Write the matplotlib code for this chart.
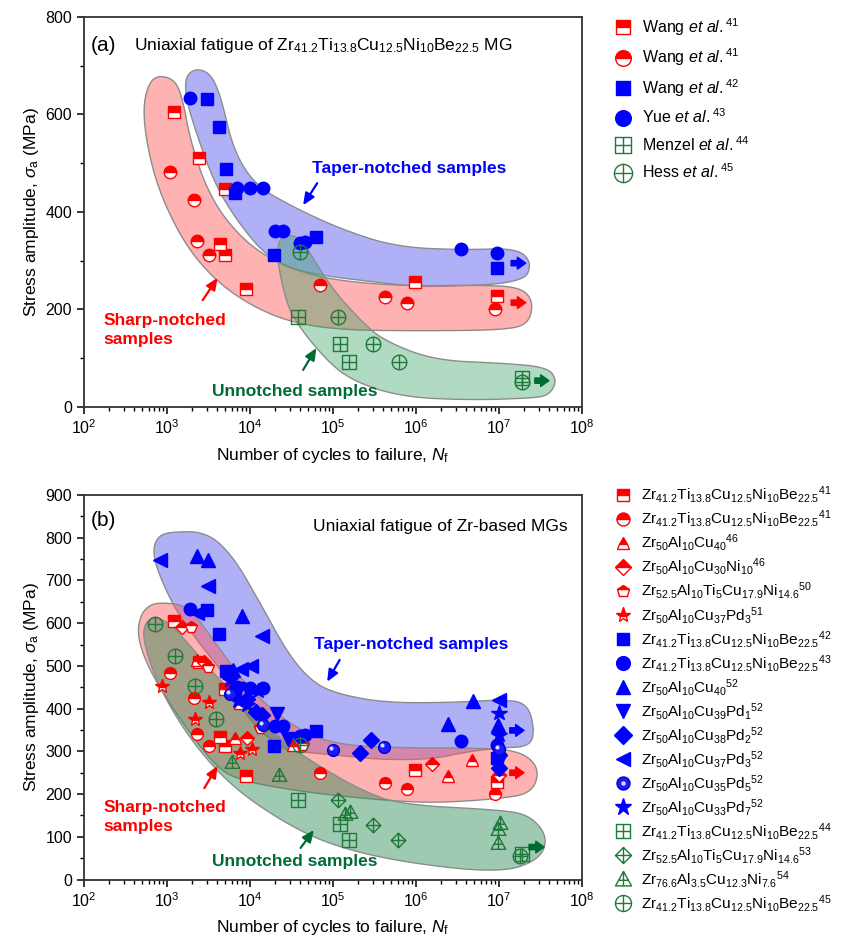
import numpy as np
import matplotlib
matplotlib.use('Agg')
import matplotlib.pyplot as plt
import matplotlib.colors as mcolors
import matplotlib.transforms as mtransforms
from matplotlib.path import Path
from matplotlib.patches import Polygon
from matplotlib.lines import Line2D
from matplotlib.ticker import MultipleLocator, FixedLocator, NullFormatter

plt.rcParams['font.family'] = ['Liberation Sans', 'DejaVu Sans']
plt.rcParams['mathtext.fontset'] = 'custom'
plt.rcParams['mathtext.rm'] = 'Liberation Sans'
plt.rcParams['mathtext.it'] = 'Liberation Sans:italic'
plt.rcParams['mathtext.bf'] = 'Liberation Sans:bold'

# ── Data shared by both panels (cycles, MPa) ──────────────────
W41_SQ_N = [1200, 2400, 5000, 4400, 5000, 9000, 9.7e5, 9.5e6]
W41_SQ_S = [605, 510, 447, 334, 312, 242, 256, 228]
W41_CI_N = [1100, 2100, 2300, 3200, 7.0e4, 4.2e5, 7.7e5, 9.0e6]
W41_CI_S = [483, 425, 341, 312, 250, 226, 213, 200]
W42_N = [3000, 4200, 5100, 6600, 19500, 62000, 9.5e6]
W42_S = [632, 575, 488, 439, 312, 348, 285]
Y43_N = [1900, 7000, 10000, 14500, 20000, 25000, 40000, 46000, 3.5e6, 9.5e6]
Y43_S = [633, 450, 449, 449, 360, 360, 336, 338, 324, 315]
M44_N = [38000, 1.2e5, 1.55e5, 1.9e7]
M44_S = [185, 130, 93, 60]

# panel (a) only
H45A_N = [40000, 1.15e5, 3.0e5, 6.3e5, 1.9e7]
H45A_S = [318, 185, 130, 93, 52]

# panel (b) only
H45B_N = [720, 1250, 2200, 3850, 40000, 1.8e7]
H45B_S = [599, 524, 452, 375, 316, 56]
D53_N = [1.15e5, 3.0e5, 6.0e5]
D53_S = [186, 128, 93]
T54_N = [6000, 22500, 1.4e5, 1.6e5, 9.7e6, 1.02e7, 9.7e6]
T54_S = [274, 245, 153, 157, 118, 132, 86]
R46T_N = [2280, 6600, 7500, 33000, 2.4e6, 4.7e6, 1.0e7]
R46T_S = [513, 332, 413, 316, 243, 280, 270]
R46D_N = [1520, 2790, 9100, 1.58e6, 1.0e7]
R46D_S = [592, 510, 331, 271, 245]
R50P_N = [1930, 3120, 13200, 43000, 1.0e7]
R50P_S = [592, 498, 355, 316, 260]
R51S_N = [860, 2170, 3240, 7550, 10500, 1.0e7]
R51S_S = [452, 376, 415, 297, 305, 292]
B52T_N = [2320, 3150, 7950, 6300, 2.4e6, 4.8e6, 9.8e6]
B52T_S = [758, 747, 616, 491, 364, 417, 362]
B52V_N = [7200, 21000, 29000, 1.0e7]
B52V_S = [446, 388, 329, 275]
B52D_N = [9100, 11700, 13800, 2.1e5, 2.9e5, 1.0e7, 1.0e7]
B52D_S = [422, 393, 385, 297, 327, 292, 261]
B52L_N = [825, 2270, 3150, 13900, 7900, 10300, 1.0e7]
B52L_S = [749, 625, 686, 571, 493, 500, 421]
B52O_N = [5750, 14200, 1.0e5, 4.1e5, 1.0e7]
B52O_S = [434, 362, 303, 311, 305]
B52S_N = [5750, 7200, 9100, 12400, 1.0e7, 1.0e7]
B52S_S = [467, 417, 409, 442, 389, 339]

X_DECADES = [1e2, 1e3, 1e4, 1e5, 1e6, 1e7, 1e8]

# ── Band outlines, (log10 N, MPa) ─────────────────────────────
PINK_A_LX = [2.89, 3.10, 3.19, 3.28, 3.46, 3.70, 4.06, 4.48, 4.96, 5.81, 6.77, 7.25, 7.41,
             7.37, 7.13, 6.05, 5.08, 4.48, 4.00, 3.58, 3.22, 2.92, 2.77, 2.71, 2.77]
PINK_A_S = [681, 671, 630, 548, 455, 384, 322, 285, 261, 248, 250, 246, 219,
            174, 158, 156, 158, 174, 209, 260, 332, 435, 527, 609, 661]
BLUE_A_LX = [3.37, 3.54, 3.66, 3.80, 4.06, 4.52, 5.12, 5.77, 6.57, 7.22, 7.40, 7.29,
             6.17, 5.81, 4.60, 4.21, 3.88, 3.58, 3.34, 3.22, 3.23]
BLUE_A_S = [695, 681, 630, 527, 455, 410, 363, 328, 322, 326, 295, 254,
            246, 250, 275, 308, 373, 455, 568, 640, 681]
GREEN_A_LX = [4.40, 4.60, 4.72, 5.00, 5.33, 5.60, 6.21, 7.01, 7.58, 7.70, 7.61, 7.41,
              6.61, 5.81, 5.21, 4.88, 4.51, 4.40, 4.34, 4.33]
GREEN_A_S = [353, 349, 316, 240, 178, 137, 96, 90, 82, 55, 25, 18,
             14, 21, 55, 103, 183, 240, 295, 332]

BLUE_B_LX = [3.04, 3.48, 3.80, 4.12, 4.45, 4.72, 5.00, 5.60, 6.41, 7.01, 7.34, 7.43, 7.37,
             7.01, 6.61, 6.21, 5.60, 5.00, 4.60, 4.40, 4.00, 3.68, 3.40, 3.10, 2.88, 2.83, 2.89]
BLUE_B_S = [814, 814, 756, 648, 531, 468, 437, 414, 414, 421, 414, 350, 311,
            308, 299, 282, 280, 292, 299, 304, 367, 484, 550, 631, 725, 772, 803]
PINK_B_LX = [2.95, 3.19, 3.34, 3.64, 4.00, 4.48, 5.00, 5.81, 6.61, 7.22, 7.49, 7.41, 7.01,
             6.21, 5.60, 4.96, 4.36, 3.88, 3.60, 3.19, 2.80, 2.64, 2.68, 2.80]
PINK_B_S = [648, 643, 620, 538, 444, 362, 316, 308, 308, 304, 264, 203, 189,
            179, 186, 198, 214, 233, 261, 365, 484, 568, 620, 644]
GREEN_B_LX = [2.80, 2.98, 3.19, 3.55, 3.88, 4.40, 4.81, 5.33, 5.81, 7.01, 7.37, 7.59, 7.49,
              7.01, 5.81, 4.96, 4.36, 3.76, 3.28, 2.92, 2.74, 2.71]
GREEN_B_S = [613, 608, 568, 484, 421, 322, 268, 210, 175, 163, 151, 100, 46,
             15, 41, 81, 139, 221, 327, 444, 538, 589]

# run-out arrows: (start N, end N, stress)
RUN_A = {'blue': (1.4e7, 2.1e7, 295), 'red': (1.4e7, 2.1e7, 214), 'green': (2.7e7, 4.0e7, 54)}
RUN_B = {'blue': (1.35e7, 2.0e7, 349), 'red': (1.35e7, 2.0e7, 250), 'green': (2.3e7, 3.5e7, 76)}

RED = '#ff0000'
BLUE = '#0000ff'
GRN = '#1f7a3a'
DKGRN = '#006b35'


def seg(a, b):
    return Path([a, b], [Path.MOVETO, Path.LINETO])


def closed(p):
    return Path(p + [p[0]], [Path.MOVETO] + [Path.LINETO] * (len(p) - 1) + [Path.CLOSEPOLY])


BOXPLUS = Path.make_compound_path(closed([(-1, -1), (1, -1), (1, 1), (-1, 1)]),
                                  seg((-1, 0), (1, 0)), seg((0, -1), (0, 1)))
OPLUS = Path.make_compound_path(Path.unit_circle(), seg((-1, 0), (1, 0)), seg((0, -1), (0, 1)))
DIAPLUS = Path.make_compound_path(closed([(0, -1), (1, 0), (0, 1), (-1, 0)]),
                                  seg((-1, 0), (1, 0)), seg((0, -1), (0, 1)))
TRIPLUS = Path.make_compound_path(closed([(-1, -0.8), (1, -0.8), (0, 1)]),
                                  seg((0, -0.8), (0, 1)), seg((-0.6, -0.1), (0.6, -0.1)))


def chaikin(lx, s, n=5):
    p = np.column_stack([lx, s]).astype(float)
    for _ in range(n):
        q = np.roll(p, -1, axis=0)
        new = np.empty((2 * len(p), 2))
        new[0::2] = 0.75 * p + 0.25 * q
        new[1::2] = 0.25 * p + 0.75 * q
        p = new
    return p


def band(ax, lx, s, color, alpha):
    p = chaikin(lx, s)
    verts = np.column_stack([10 ** p[:, 0], p[:, 1]])
    ax.add_patch(Polygon(verts, closed=True, fc=mcolors.to_rgba(color, alpha),
                         ec='#8c8c8c', lw=1.0, zorder=1))


def pts(ax, x, y, marker, color, ms=8, fill='full', z=5):
    kw = dict(ls='none', marker=marker, ms=ms, mec=color, mew=1.0, zorder=z)
    if fill == 'top':
        kw.update(fillstyle='top', mfc=color, markerfacecoloralt='white')
    elif fill == 'none':
        kw.update(mfc='none')
    else:
        kw.update(mfc=color)
    return ax.plot(x, y, **kw)[0]


def sphere(ax, x, y, ms=8):
    h1 = ax.plot(x, y, ls='none', marker='o', ms=ms, color='#1a1aff', mec='#0000cc', zorder=5)[0]
    tr = mtransforms.offset_copy(ax.transData, fig=fig, x=-1.3, y=1.3, units='points')
    ax.plot(x, y, ls='none', marker='o', ms=ms * 0.35, color='#d8d8ff', mec='none',
            zorder=6, transform=tr)
    h2 = Line2D([], [], ls='none', marker='o', ms=ms * 0.35, color='#d8d8ff', mec='none')
    return (h1, h2)


def runout(ax, runs):
    for col, (x0, x1, y) in runs.items():
        c = {'blue': BLUE, 'red': RED, 'green': DKGRN}[col]
        ax.annotate('', xy=(x1, y), xytext=(x0, y),
                    arrowprops=dict(arrowstyle='simple,head_length=0.6,head_width=0.85,tail_width=0.38',
                                    fc=c, ec=c, shrinkA=0, shrinkB=0), zorder=6)


def pointer(ax, tail, tip, color):
    ax.annotate('', xy=tip, xytext=tail,
                arrowprops=dict(arrowstyle='-|>,head_length=0.5,head_width=0.22', color=color,
                                lw=1.6, shrinkA=0, shrinkB=0, mutation_scale=14), zorder=6)


def style_axes(ax, ymax, ymajor, yminor):
    ax.set_xscale('log')
    ax.set_xlim(X_DECADES[0], X_DECADES[-1])
    ax.set_ylim(0, ymax)
    ax.xaxis.set_major_locator(FixedLocator(X_DECADES))
    minors = [m * d for d in X_DECADES[:-1] for m in range(2, 10)]
    ax.xaxis.set_minor_locator(FixedLocator(minors))
    ax.xaxis.set_minor_formatter(NullFormatter())
    ax.yaxis.set_major_locator(MultipleLocator(ymajor))
    ax.yaxis.set_minor_locator(MultipleLocator(yminor))
    ax.tick_params(which='major', length=5, width=1.1, labelsize=11.5)
    ax.tick_params(which='minor', length=3, width=1.0)
    for sp in ax.spines.values():
        sp.set_linewidth(1.3)
        sp.set_color('#333333')
    ax.set_xlabel(r'Number of cycles to failure, $N_\mathrm{f}$', fontsize=12.5, labelpad=6)
    ax.set_ylabel(r'Stress amplitude, $\sigma_\mathrm{a}$ (MPa)', fontsize=12.5, labelpad=3)


fig = plt.figure(figsize=(8.5, 9.44), dpi=100)
axA = fig.add_axes([0.0988, 0.5689, 0.5859, 0.4131])
axB = fig.add_axes([0.0988, 0.0683, 0.5859, 0.4073])

# ── Panel (a) ─────────────────────────────────────────────────
band(axA, BLUE_A_LX, BLUE_A_S, '#4444ee', 0.42)
band(axA, PINK_A_LX, PINK_A_S, '#ff5555', 0.45)
band(axA, GREEN_A_LX, GREEN_A_S, '#33a060', 0.38)

hA = [
    pts(axA, W41_SQ_N, W41_SQ_S, 's', RED, 8.5, 'top'),
    pts(axA, W41_CI_N, W41_CI_S, 'o', RED, 9, 'top'),
    pts(axA, W42_N, W42_S, 's', BLUE, 8.5),
    pts(axA, Y43_N, Y43_S, 'o', BLUE, 9),
    pts(axA, M44_N, M44_S, BOXPLUS, GRN, 9.5, 'none'),
    pts(axA, H45A_N, H45A_S, OPLUS, GRN, 10.5, 'none'),
]
labA = [r'Wang $\mathit{et\ al.}^{41}$', r'Wang $\mathit{et\ al.}^{41}$',
        r'Wang $\mathit{et\ al.}^{42}$', r'Yue $\mathit{et\ al.}^{43}$',
        r'Menzel $\mathit{et\ al.}^{44}$', r'Hess $\mathit{et\ al.}^{45}$']
runout(axA, RUN_A)

style_axes(axA, 800, 200, 100)
axA.text(0.014, 0.928, '(a)', transform=axA.transAxes, fontsize=15, va='center')
axA.text(0.1, 0.928, r'Uniaxial fatigue of Zr$_{41.2}$Ti$_{13.8}$Cu$_{12.5}$Ni$_{10}$Be$_{22.5}$ MG',
         transform=axA.transAxes, fontsize=12.5, va='center')
axA.text(10 ** 5.92, 490, 'Taper-notched samples', color=BLUE, fontsize=12.5,
         fontweight='bold', ha='center', va='center')
pointer(axA, (10 ** 4.81, 459), (10 ** 4.64, 414), BLUE)
axA.text(10 ** 2.23, 158, 'Sharp-notched\nsamples', color=RED, fontsize=12.5,
         fontweight='bold', ha='left', va='center', linespacing=1.3)
pointer(axA, (10 ** 3.43, 219), (10 ** 3.61, 265), RED)
axA.text(10 ** 4.54, 31, 'Unnotched samples', color=DKGRN, fontsize=12.5,
         fontweight='bold', ha='center', va='center')
pointer(axA, (10 ** 4.64, 76), (10 ** 4.80, 121), DKGRN)

axA.legend(hA, labA, loc='upper left', bbox_to_anchor=(0.722, 0.983),
           bbox_transform=fig.transFigure, frameon=False, fontsize=11.5,
           handlelength=1.2, handletextpad=0.6, labelspacing=0.55, markerscale=1.25,
           borderpad=0, borderaxespad=0)

# ── Panel (b) ─────────────────────────────────────────────────
band(axB, BLUE_B_LX, BLUE_B_S, '#4444ee', 0.42)
band(axB, PINK_B_LX, PINK_B_S, '#ff5555', 0.45)
band(axB, GREEN_B_LX, GREEN_B_S, '#2a8a55', 0.45)

hB = [
    pts(axB, W41_SQ_N, W41_SQ_S, 's', RED, 8, 'top'),
    pts(axB, W41_CI_N, W41_CI_S, 'o', RED, 8.5, 'top'),
    pts(axB, R46T_N, R46T_S, '^', RED, 8.5, 'top'),
    pts(axB, R46D_N, R46D_S, 'D', RED, 7.5, 'top'),
    pts(axB, R50P_N, R50P_S, 'p', RED, 8.5, 'top'),
    pts(axB, R51S_N, R51S_S, '*', RED, 10, 'top'),
    pts(axB, W42_N, W42_S, 's', BLUE, 8.5),
    pts(axB, Y43_N, Y43_S, 'o', BLUE, 9),
    pts(axB, B52T_N, B52T_S, '^', BLUE, 9.5),
    pts(axB, B52V_N, B52V_S, 'v', BLUE, 9.5),
    pts(axB, B52D_N, B52D_S, 'D', BLUE, 8.5),
    pts(axB, B52L_N, B52L_S, '<', BLUE, 9.5),
    sphere(axB, B52O_N, B52O_S, 8.5),
    pts(axB, B52S_N, B52S_S, '*', BLUE, 11.5),
    pts(axB, M44_N, M44_S, BOXPLUS, GRN, 9.5, 'none'),
    pts(axB, D53_N, D53_S, DIAPLUS, GRN, 10.5, 'none'),
    pts(axB, T54_N, T54_S, TRIPLUS, GRN, 10.5, 'none'),
    pts(axB, H45B_N, H45B_S, OPLUS, GRN, 10.5, 'none'),
]
ZRBE = r'Zr$_{41.2}$Ti$_{13.8}$Cu$_{12.5}$Ni$_{10}$Be$_{22.5}$'
ZRAT = r'Zr$_{52.5}$Al$_{10}$Ti$_{5}$Cu$_{17.9}$Ni$_{14.6}$'
ALLOYS_B = [ZRBE, ZRBE, r'Zr$_{50}$Al$_{10}$Cu$_{40}$', r'Zr$_{50}$Al$_{10}$Cu$_{30}$Ni$_{10}$',
            ZRAT, r'Zr$_{50}$Al$_{10}$Cu$_{37}$Pd$_{3}$', ZRBE, ZRBE,
            r'Zr$_{50}$Al$_{10}$Cu$_{40}$', r'Zr$_{50}$Al$_{10}$Cu$_{39}$Pd$_{1}$',
            r'Zr$_{50}$Al$_{10}$Cu$_{38}$Pd$_{2}$', r'Zr$_{50}$Al$_{10}$Cu$_{37}$Pd$_{3}$',
            r'Zr$_{50}$Al$_{10}$Cu$_{35}$Pd$_{5}$', r'Zr$_{50}$Al$_{10}$Cu$_{33}$Pd$_{7}$',
            ZRBE, ZRAT, r'Zr$_{76.6}$Al$_{3.5}$Cu$_{12.3}$Ni$_{7.6}$', ZRBE]
REFS_B = [41, 41, 46, 46, 50, 51, 42, 43, 52, 52, 52, 52, 52, 52, 44, 53, 54, 45]
labB = [a + r'$^{%d}$' % r for a, r in zip(ALLOYS_B, REFS_B)]
runout(axB, RUN_B)

style_axes(axB, 900, 100, 50)
axB.text(0.014, 0.935, '(b)', transform=axB.transAxes, fontsize=15, va='center')
axB.text(0.972, 0.917, 'Uniaxial fatigue of Zr-based MGs', transform=axB.transAxes,
         fontsize=12.5, va='center', ha='right')
axB.text(10 ** 5.94, 550, 'Taper-notched samples', color=BLUE, fontsize=12.5,
         fontweight='bold', ha='center', va='center')
pointer(axB, (10 ** 5.08, 514), (10 ** 4.93, 463), BLUE)
axB.text(10 ** 2.23, 147, 'Sharp-notched\nsamples', color=RED, fontsize=12.5,
         fontweight='bold', ha='left', va='center', linespacing=1.3)
pointer(axB, (10 ** 3.45, 214), (10 ** 3.61, 266), RED)
axB.text(10 ** 4.54, 43, 'Unnotched samples', color=DKGRN, fontsize=12.5,
         fontweight='bold', ha='center', va='center')
pointer(axB, (10 ** 4.61, 74), (10 ** 4.77, 116), DKGRN)

axB.legend(hB, labB, loc='upper left', bbox_to_anchor=(0.722, 0.487),
           bbox_transform=fig.transFigure, frameon=False, fontsize=11,
           handlelength=1.2, handletextpad=0.6, labelspacing=0.2, markerscale=1.1,
           borderpad=0, borderaxespad=0)

fig.savefig('out.png', dpi=100)
